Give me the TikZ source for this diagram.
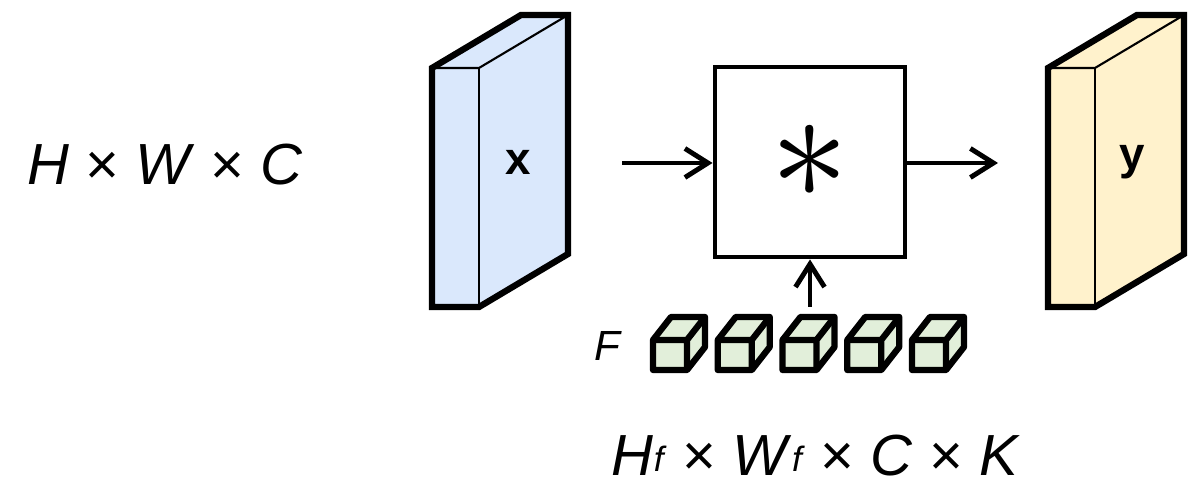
\documentclass[tikz,border=0pt]{standalone}
\usepackage{fontspec}
\setmainfont{Liberation Sans}
\usepackage{xcolor}
\usetikzlibrary{arrows.meta,positioning}
\definecolor{inblue}{HTML}{DAE8FC}
\definecolor{outyellow}{HTML}{FFF2CC}
\definecolor{cubegreen}{HTML}{E2EFDA}
\tikzset{
  slab/.style={line width=1.8pt,line join=miter},
  inner edge/.style={line width=0.6pt},
  cube/.style={draw,line width=1.8pt,fill=cubegreen,line join=round},
  op/.style={draw,line width=1.4pt,minimum width=19mm,minimum height=19mm,inner sep=0pt},
  arrow/.style={-{Straight Barb[length=2.3mm,width=2.9mm]},line width=1.4pt},
  dimlabel/.style={font=\fontsize{16.5}{20}\selectfont,inner sep=0pt},
  tensorlabel/.style={font=\fontsize{13}{15}\selectfont\bfseries,inner sep=0pt}
}
\newcommand{\sub}[1]{\raisebox{0.15ex}{\fontsize{10}{12}\selectfont\textit{#1}}}

\begin{document}
\begin{tikzpicture}
  \useasboundingbox (0,0) rectangle (11.89,4.86);

  % input and output feature maps
  \foreach \sx/\col in {0/inblue,6.16/outyellow}{
    \begin{scope}[xshift=\sx cm]
      \fill[\col] (4.32,1.79) -- (4.79,1.79) -- (5.68,2.32) -- (5.68,4.71)
        -- (5.21,4.71) -- (4.32,4.18) -- cycle;
      \draw[inner edge] (4.32,4.18) -- (4.79,4.18) -- (5.68,4.71);
      \draw[inner edge] (4.79,4.18) -- (4.79,1.79);
      \draw[slab] (4.32,1.79) -- (4.79,1.79) -- (5.68,2.32) -- (5.68,4.71)
        -- (5.21,4.71) -- (4.32,4.18) -- cycle;
    \end{scope}
  }
  \node[tensorlabel] (x) at (5.18,3.24) {x};
  \node[tensorlabel] (y) at (11.32,3.24) {y};

  % convolution
  \node[op] (conv) at (8.10,3.24)
    {\raisebox{-0.05cm}{\scalebox{1.8}{\fontsize{24.88}{25}\selectfont$\ast$}}};
  \coordinate (in) at (6.22,3.23);
  \coordinate (out) at (9.98,3.23);
  \coordinate (up) at (8.10,1.79);
  \draw[arrow] (in) -- (conv.west |- in);
  \draw[arrow] (conv.east |- out) -- (out);
  \draw[arrow] (up) -- (conv.south);

  % filter bank
  \foreach \i in {0,...,4}{
    \begin{scope}[xshift=\i*0.6475cm]
      \path[cube] (6.53,1.16) -- (6.87,1.16) -- (7.05,1.39) -- (7.05,1.69)
        -- (6.71,1.69) -- (6.53,1.46) -- cycle;
      \draw[line width=1.8pt,line join=round] (6.53,1.46) -- (6.87,1.46) -- (7.05,1.69)
        (6.87,1.46) -- (6.87,1.16);
    \end{scope}
  }
  \node[font=\fontsize{12}{14}\selectfont\itshape,inner sep=0pt] (F) at (6.07,1.40) {F};

  % sizes
  \node[dimlabel] (insize) at (1.65,3.21)
    {\textit{H} × \textit{W} × \textit{C}};
  \node[dimlabel,anchor=base] (fsize) at (8.16,0.10)
    {\textit{H}\sub{f} × \textit{W}\sub{f} × \textit{C} × \textit{K}};
\end{tikzpicture}
\end{document}
